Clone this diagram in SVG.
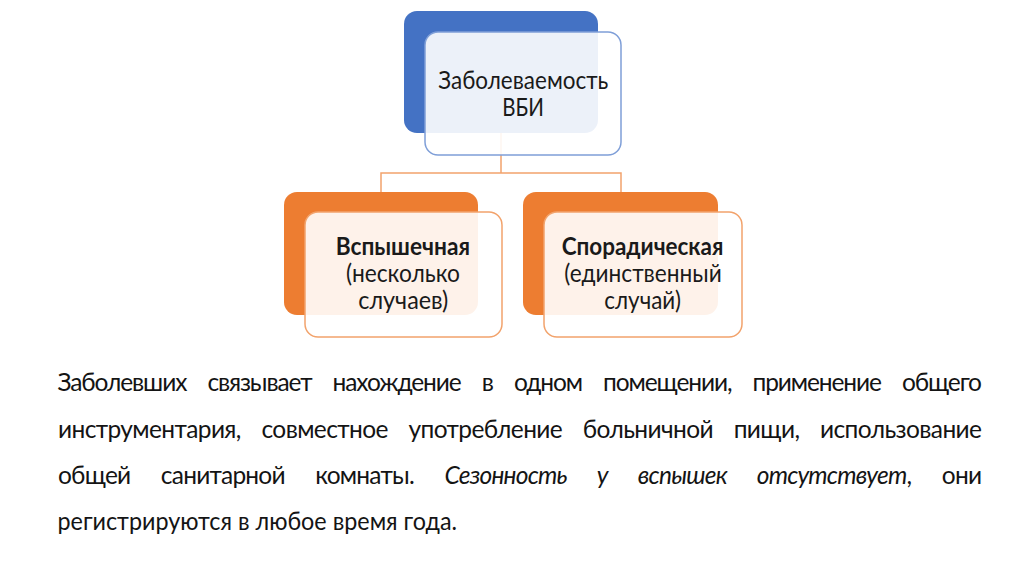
<svg xmlns="http://www.w3.org/2000/svg" width="1024" height="574" viewBox="0 0 1024 574">
<style>
.bg{fill:#ffffff}
.backB{fill:#4472C4}
.frontB{fill:#ffffff;fill-opacity:0.9;stroke:#7F9FD8;stroke-width:1.5}
.backO{fill:#ED7D31}
.frontO{fill:#ffffff;fill-opacity:0.9;stroke:#F2A36C;stroke-width:1.5}
.conn{fill:none;stroke:#F2A36C;stroke-width:1.5}
.nt{font-family:Lato,"Open Sans",sans-serif;font-size:25px;fill:#1a1a1a;text-anchor:start}
.nb{font-weight:bold}
.bt{font-family:Lato,"Open Sans",sans-serif;font-size:24.5px;fill:#141414}
.it{font-style:italic}
</style>
<rect class="bg" x="0" y="0" width="1024" height="574"/>
<g id="connectors">
<path class="conn" d="M501 133 V173 M381 192 V173 H621 V192"/>
</g>
<g id="node-top">
<rect class="backB" x="404" y="11" width="194" height="122" rx="13"/>
<rect class="frontB" x="425" y="32" width="196" height="123" rx="13"/>
<text class="nt" x="438.3" y="89.3" textLength="170" lengthAdjust="spacingAndGlyphs">Заболеваемость</text>
<text class="nt" x="502.3" y="115.5" textLength="41.7" lengthAdjust="spacingAndGlyphs">ВБИ</text>
</g>
<g id="node-left">
<rect class="backO" x="284" y="192" width="194" height="123" rx="13"/>
<rect class="frontO" x="305" y="212" width="197" height="125" rx="13"/>
<text class="nt nb" x="335.7" y="255" textLength="134.3" lengthAdjust="spacingAndGlyphs">Вспышечная</text>
<text class="nt" x="346" y="281.7" textLength="114" lengthAdjust="spacingAndGlyphs">(несколько</text>
<text class="nt" x="358.3" y="308.5" textLength="90" lengthAdjust="spacingAndGlyphs">случаев)</text>
</g>
<g id="node-right">
<rect class="backO" x="523" y="192" width="195" height="123" rx="13"/>
<rect class="frontO" x="544" y="212" width="198" height="125" rx="13"/>
<text class="nt nb" x="561.7" y="255" textLength="161.6" lengthAdjust="spacingAndGlyphs">Спорадическая</text>
<text class="nt" x="564.3" y="281.7" textLength="157.4" lengthAdjust="spacingAndGlyphs">(единственный</text>
<text class="nt" x="604.3" y="308.5" textLength="76.7" lengthAdjust="spacingAndGlyphs">случай)</text>
</g>
<g id="body-text">
<text class="bt" x="57.5" y="390.5" style="word-spacing:16px" textLength="924.5" lengthAdjust="spacing">Заболевших связывает нахождение в одном помещении, применение общего</text>
<text class="bt" x="58" y="437.5" style="word-spacing:15px" textLength="924" lengthAdjust="spacing">инструментария, совместное употребление больничной пищи, использование</text>
<text class="bt" x="58" y="484" style="word-spacing:25px" textLength="924" lengthAdjust="spacing">общей санитарной комнаты. <tspan class="it">Сезонность у вспышек отсутствует</tspan>, они</text>
<text class="bt" x="57.5" y="530" textLength="399.5" lengthAdjust="spacingAndGlyphs">регистрируются в любое время года.</text>
</g>
</svg>
